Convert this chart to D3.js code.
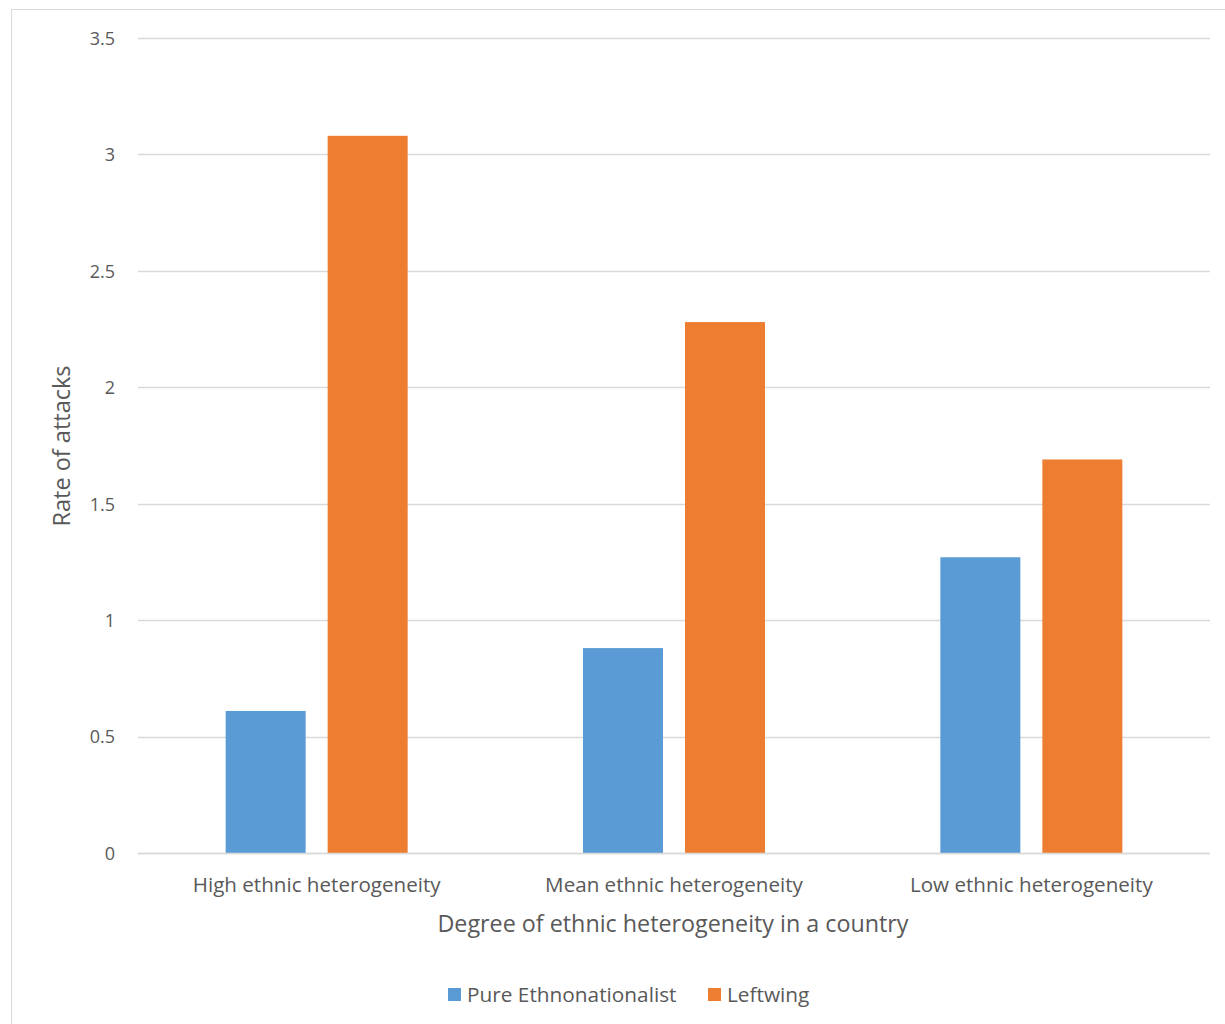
<!DOCTYPE html>
<html>
<head>
<meta charset="utf-8">
<script src="https://cdn.jsdelivr.net/npm/d3@7"></script>
<style>
  html, body { margin: 0; padding: 0; background: #fff; }
  svg { display: block; }
  text { font-family: "Open Sans", "Noto Sans", sans-serif; fill: #595959; }
</style>
</head>
<body>
<svg id="chart" width="1225" height="1024"></svg>
<script>
// Rate of attacks by degree of ethnic heterogeneity
const categories = ["High ethnic heterogeneity", "Mean ethnic heterogeneity", "Low ethnic heterogeneity"];
const seriesNames = ["Pure Ethnonationalist", "Leftwing"];
const pureEthnonationalist = [0.61, 0.88, 1.27];
const leftwing = [3.08, 2.28, 1.69];
const yTicks = [0, 0.5, 1, 1.5, 2, 2.5, 3, 3.5];
const colors = ["#5B9BD5", "#ED7D31"];

const series = [pureEthnonationalist, leftwing];

const svg = d3.select("#chart");

// outer chart frame
svg.append("rect")
  .attr("x", 11.5).attr("y", 9.5)
  .attr("width", 1240).attr("height", 1040)
  .attr("fill", "#fff").attr("stroke", "#d9d9d9").attr("stroke-width", 1);

const plot = { left: 138, right: 1210, top: 38, bottom: 853 };

const x = d3.scaleBand()
  .domain(categories)
  .range([plot.left, plot.right])
  .paddingInner(0.4907)
  .paddingOuter(0.2453);

const xInner = d3.scaleBand()
  .domain(seriesNames)
  .range([0, x.bandwidth()])
  .paddingInner(0.2157);

const y = d3.scaleLinear().domain([0, 3.5]).range([plot.bottom, plot.top]);

// horizontal gridlines
svg.append("g")
  .selectAll("line")
  .data(yTicks)
  .join("line")
  .attr("x1", plot.left).attr("x2", plot.right)
  .attr("y1", d => Math.round(y(d)) + 0.5)
  .attr("y2", d => Math.round(y(d)) + 0.5)
  .attr("stroke", "#d9d9d9").attr("stroke-width", 1.5);

// y tick labels
const yAxis = d3.axisLeft(y).tickValues(yTicks).tickSize(0).tickPadding(0)
  .tickFormat(d => String(d));
const gy = svg.append("g").attr("transform", `translate(${plot.left - 23},0)`).call(yAxis);
gy.attr("font-size", null).attr("font-family", null);
gy.select(".domain").remove();
gy.selectAll("text")
  .style("font-size", "18px")
  .style("fill", "#595959")
  .attr("dy", "0.35em");

// bars
const groups = svg.append("g")
  .selectAll("g")
  .data(categories)
  .join("g")
  .attr("transform", d => `translate(${x(d)},0)`);

groups.selectAll("rect")
  .data((c, i) => seriesNames.map((s, j) => ({ s, v: series[j][i], j })))
  .join("rect")
  .attr("x", d => xInner(d.s))
  .attr("width", xInner.bandwidth())
  .attr("y", d => y(d.v))
  .attr("height", d => y(0) - y(d.v))
  .attr("fill", d => colors[d.j]);

// baseline
svg.append("line")
  .attr("x1", plot.left).attr("x2", plot.right)
  .attr("y1", plot.bottom + 0.5).attr("y2", plot.bottom + 0.5)
  .attr("stroke", "#d9d9d9").attr("stroke-width", 1.5);

// x category labels
const xAxis = d3.axisBottom(x).tickSize(0).tickPadding(0);
const gx = svg.append("g").attr("transform", `translate(0,${plot.bottom + 32})`).call(xAxis);
gx.attr("font-size", null).attr("font-family", null);
gx.select(".domain").remove();
gx.selectAll("text")
  .style("font-size", "20.6px")
  .style("fill", "#595959")
  .attr("dy", "0.35em")
  .attr("y", 0);

// axis titles
svg.append("text")
  .attr("x", 673)
  .attr("y", 932)
  .attr("text-anchor", "middle")
  .style("font-size", "23.3px")
  .text("Degree of ethnic heterogeneity in a country");

svg.append("text")
  .attr("transform", `translate(70,446) rotate(-90)`)
  .attr("text-anchor", "middle")
  .style("font-size", "23.5px")
  .text("Rate of attacks");

// legend
const legendItems = [
  { name: seriesNames[0], color: colors[0], x: 448 },
  { name: seriesNames[1], color: colors[1], x: 708 }
];
const lg = svg.append("g").selectAll("g").data(legendItems).join("g")
  .attr("transform", d => `translate(${d.x},988)`);
lg.append("rect").attr("width", 13).attr("height", 13).attr("fill", d => d.color);
lg.append("text").attr("x", 19).attr("y", 14).style("font-size", "20.8px").text(d => d.name);
</script>
</body>
</html>
